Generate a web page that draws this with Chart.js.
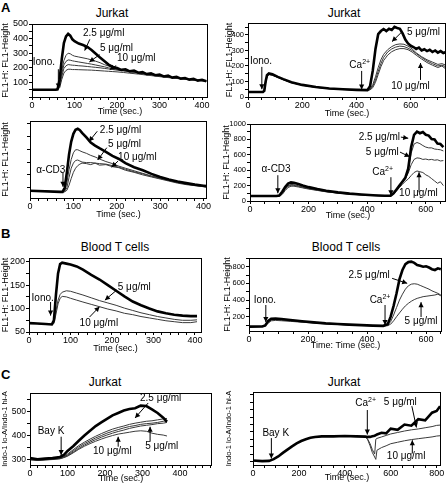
<!DOCTYPE html>
<html>
<head>
<meta charset="utf-8">
<title>Calcium flux panels</title>
<script src="https://cdn.jsdelivr.net/npm/chart.js@4.4.1/dist/chart.umd.min.js"></script>
<style>
  html, body { margin: 0; padding: 0; background: #fff; overflow: hidden; }
  #figure { position: relative; width: 448px; height: 489px; font-family: "Liberation Sans", Arial, sans-serif; color: #000; }
  .letter { position: absolute; font-weight: bold; font-size: 13px; line-height: 13px; }
  .title { position: absolute; font-size: 12px; transform: translate(-50%, -50%); white-space: nowrap; }
  .plot { position: absolute; }
</style>
</head>
<body>
<div id="figure">
  <div class="letter" style="left:1px;top:1px;">A</div>
  <div class="letter" style="left:1px;top:227px;">B</div>
  <div class="letter" style="left:1px;top:368px;">C</div>
  <div class="title" style="left:112px;top:13px;">Jurkat</div>
  <div class="title" style="left:344px;top:13px;">Jurkat</div>
  <div class="title" style="left:115px;top:247px;">Blood T cells</div>
  <div class="title" style="left:346px;top:247px;">Blood T cells</div>
  <div class="title" style="left:105px;top:382px;">Jurkat</div>
  <div class="title" style="left:344px;top:382px;">Jurkat</div>
</div>
<script>
// ---- A: Jurkat, ionomycin (left) ----
const tA1 = [0, 55, 60, 65, 70, 75, 80, 85, 90, 95, 100, 110, 120, 130, 140, 150, 160, 170, 180, 190, 200, 215, 230, 250, 270, 290, 310, 330, 350, 370, 390, 410];
const tA1Top = [0, 55, 60, 65, 70, 75, 80, 85, 90, 95, 100, 110, 120, 130, 140, 150, 160, 170, 180, 190, 200, 210, 220, 230, 240, 250, 260, 270, 280, 290, 300, 310, 320, 330, 340, 350, 360, 370, 380, 390, 400, 410];
const a1Dose25 = [50, 50, 52, 120, 260, 370, 415, 432, 420, 395, 382, 366, 356, 344, 322, 296, 270, 246, 222, 206, 198, 186, 190, 176, 181, 166, 170, 157, 162, 149, 153, 141, 146, 133, 138, 126, 130, 119, 124, 112, 118, 108];
const a1Dose5 = [50, 50, 51, 90, 180, 250, 285, 300, 296, 286, 280, 274, 268, 262, 254, 245, 235, 222, 212, 201, 193, 184, 177, 167, 159, 150, 142, 135, 128, 122, 116, 111];
const a1Dose10 = [50, 50, 50, 80, 160, 220, 244, 254, 252, 248, 245, 240, 235, 230, 225, 219, 213, 207, 200, 194, 188, 182, 175, 166, 157, 149, 141, 134, 127, 121, 115, 110];
const a1TraceD = [50, 50, 50, 70, 140, 195, 214, 222, 220, 218, 217, 214, 212, 209, 206, 203, 200, 196, 192, 188, 184, 178, 172, 164, 155, 147, 140, 133, 126, 120, 114, 108];
const a1TraceE = [50, 50, 50, 62, 120, 164, 182, 190, 190, 188, 188, 187, 186, 185, 184, 182, 180, 178, 176, 174, 172, 168, 163, 157, 150, 143, 136, 130, 124, 118, 113, 107];
const xTicksA1 = [0, 100, 200, 300, 400];
const yTicksA1 = [100, 200, 300, 400, 500];

// ---- A: Jurkat, ionomycin then Ca2+ (right) ----
const tA2 = [0, 55, 60, 65, 70, 77, 90, 110, 130, 160, 200, 250, 300, 350, 400, 440, 450, 460, 470, 480, 490, 500, 515, 530, 545, 560, 575, 590, 605, 620, 640, 660, 680, 700, 715, 730];
const tA2Top = [0, 55, 60, 65, 70, 77, 90, 110, 130, 160, 200, 250, 300, 350, 400, 440, 450, 460, 470, 480, 490, 500, 510, 520, 530, 540, 550, 560, 570, 580, 590, 600, 610, 620, 630, 640, 650, 660, 670, 680, 690, 700, 710, 720, 730];
const a2Top = [32, 32, 40, 100, 140, 152, 146, 130, 115, 95, 78, 64, 55, 50, 46, 44, 70, 170, 310, 405, 425, 438, 425, 440, 432, 452, 445, 440, 410, 370, 345, 330, 322, 310, 318, 300, 308, 296, 304, 290, 300, 286, 296, 284, 290];
const a2Dose5 = [32, 32, 38, 95, 135, 148, 143, 128, 113, 94, 77, 63, 54, 49, 46, 44, 50, 80, 130, 190, 240, 275, 305, 325, 338, 342, 340, 328, 310, 285, 260, 240, 225, 210, 215, 205];
const a2TraceC = [32, 32, 37, 92, 132, 146, 141, 127, 112, 93, 76, 63, 54, 49, 45, 44, 48, 70, 110, 165, 215, 255, 290, 310, 322, 328, 325, 315, 300, 280, 255, 232, 215, 200, 205, 195];
const a2Dose10 = [32, 32, 36, 90, 130, 144, 140, 126, 111, 92, 76, 62, 53, 48, 45, 43, 46, 60, 95, 145, 195, 235, 270, 292, 305, 312, 312, 305, 290, 270, 245, 222, 205, 190, 200, 180];
const xTicksA2 = [0, 200, 400, 600];
const yTicksA2 = [0, 100, 200, 300, 400];

// ---- A: Jurkat, anti-CD3 (left) ----
const tA3 = [0, 70, 75, 80, 85, 90, 95, 100, 105, 110, 115, 120, 130, 140, 150, 160, 175, 190, 205, 220, 240, 260, 280, 300, 320, 340, 360, 380, 400, 420, 430];
const a3Dose25 = [44, 42, 42, 50, 80, 115, 140, 155, 163, 165, 162, 157, 148, 138, 132, 127, 120, 112, 106, 98, 90, 84, 77, 71, 66, 62, 59, 56, 54, 52, 51];
const a3Dose5 = [44, 42, 42, 45, 60, 85, 105, 118, 124, 124, 122, 120, 117, 113, 110, 106, 101, 97, 92, 88, 83, 78, 73, 69, 65, 61, 58, 55, 53, 51, 50];
const a3Dose10 = [44, 42, 42, 43, 50, 70, 88, 98, 103, 104, 102, 100, 99, 99, 98, 97, 96, 93, 90, 86, 81, 77, 72, 68, 64, 60, 57, 55, 52, 50, 49];
const a3TraceD = [44, 42, 42, 42, 45, 55, 68, 80, 88, 93, 96, 98, 97, 95, 98, 94, 95, 91, 89, 84, 80, 75, 71, 67, 63, 59, 56, 54, 52, 50, 49];
const xTicksA3 = [0, 100, 200, 300, 400];
const yTicksA3 = [30, 80, 130, 180];

// ---- A: Jurkat, anti-CD3 then Ca2+ (right) ----
const tA4 = [0, 90, 100, 110, 120, 130, 140, 150, 165, 180, 200, 230, 260, 300, 340, 380, 420, 460, 480, 490, 500, 510, 520, 530, 540, 550, 560, 570, 580, 590, 600, 610, 620, 630, 640, 650, 660];
const a4Dose25 = [64, 64, 70, 120, 180, 225, 242, 238, 220, 200, 180, 155, 133, 112, 96, 84, 75, 68, 70, 100, 150, 200, 250, 300, 420, 700, 860, 900, 880, 895, 860, 850, 805, 800, 745, 740, 700];
const a4Dose5 = [64, 64, 68, 105, 160, 200, 215, 212, 198, 182, 165, 143, 124, 106, 92, 81, 73, 67, 68, 98, 145, 195, 245, 295, 390, 620, 740, 760, 745, 720, 700, 690, 690, 675, 670, 665, 650];
const a4TraceC = [64, 64, 66, 95, 150, 190, 205, 203, 190, 176, 160, 140, 121, 104, 91, 80, 72, 66, 67, 95, 140, 190, 240, 290, 360, 470, 540, 560, 555, 540, 545, 535, 540, 530, 535, 520, 525];
const a4Dose10 = [64, 64, 65, 85, 135, 175, 192, 192, 182, 170, 155, 137, 119, 102, 89, 79, 71, 65, 66, 90, 130, 175, 215, 255, 285, 330, 370, 390, 380, 370, 340, 320, 290, 260, 230, 250, 200];
const xTicksA4 = [0, 200, 400, 600];
const yTicksA4 = [0, 200, 400, 600, 800, 1000];

// ---- B: blood T cells, ionomycin (left) ----
const tB1 = [0, 20, 40, 55, 60, 65, 70, 75, 80, 90, 100, 115, 130, 150, 170, 190, 210, 230, 250, 270, 290, 310, 330, 350, 370, 390, 405];
const b1Top = [69, 68, 67, 66, 75, 130, 175, 195, 198, 196, 194, 190, 183, 172, 162, 150, 138, 126, 115, 107, 100, 94, 90, 87, 85, 84, 84];
const b1Dose5 = [69, 68, 67, 67, 70, 95, 118, 130, 135, 138, 137, 133, 129, 123, 117, 112, 107, 101, 96, 91, 87, 83, 80, 77, 75, 75, 76];
const b1Dose10 = [69, 68, 67, 66, 68, 88, 110, 122, 126, 125, 122, 118, 114, 109, 104, 99, 95, 90, 87, 83, 80, 77, 74, 72, 70, 70, 72];
const xTicksB1 = [0, 100, 200, 300, 400];
const yTicksB1 = [50, 100, 150, 200];

// ---- B: blood T cells, ionomycin then Ca2+ (right) ----
const tB2 = [0, 45, 55, 65, 75, 90, 110, 140, 180, 220, 260, 300, 340, 380, 420, 455, 470, 480, 490, 500, 510, 520, 530, 540, 550, 560, 570, 580, 590, 600, 610, 620, 630, 640, 650];
const b2Top = [80, 82, 95, 150, 175, 178, 172, 160, 145, 132, 120, 112, 104, 98, 93, 90, 110, 200, 330, 480, 650, 760, 830, 855, 860, 845, 820, 810, 800, 805, 790, 770, 760, 780, 770];
const b2Dose25 = [80, 82, 90, 130, 160, 162, 158, 150, 138, 127, 117, 108, 101, 96, 92, 89, 100, 140, 220, 310, 400, 470, 530, 570, 590, 595, 590, 575, 560, 545, 530, 510, 495, 480, 460];
const b2Dose5 = [80, 82, 88, 120, 150, 155, 151, 144, 133, 123, 114, 106, 99, 95, 91, 88, 92, 110, 150, 200, 245, 290, 330, 360, 385, 405, 420, 430, 440, 445, 450, 455, 460, 470, 450];
const xTicksB2 = [0, 200, 400, 600];
const yTicksB2 = [200, 400, 600, 800];

// ---- C: Jurkat, Bay K (left) ----
const tC1 = [0, 20, 40, 60, 80, 90, 100, 115, 130, 145, 160, 175, 190, 205, 220, 235, 250, 265, 280, 295, 310, 325, 340, 355, 365];
const c1Dose25 = [305, 300, 303, 305, 310, 318, 335, 355, 378, 400, 420, 440, 455, 470, 485, 495, 505, 512, 515, 526, 524, 510, 495, 475, 458];
const c1TraceB = [300, 298, 300, 302, 305, 312, 322, 340, 358, 372, 385, 397, 408, 418, 427, 434, 440, 447, 452, 456, 460, 462, 466, 470, 472];
const c1TraceC = [300, 297, 299, 301, 304, 310, 318, 335, 352, 366, 378, 390, 400, 410, 418, 425, 432, 438, 442, 447, 450, 452, 455, 460, 462];
const c1Dose10 = [298, 296, 298, 300, 303, 308, 315, 330, 346, 360, 372, 383, 393, 402, 410, 417, 423, 430, 435, 440, 443, 446, 450, 452, 455];
const c1Dose5 = [298, 295, 297, 299, 302, 307, 313, 327, 342, 355, 366, 376, 385, 393, 400, 406, 410, 414, 418, 420, 418, 410, 405, 402, 398];
const xTicksC1 = [0, 100, 200, 300, 400];
const yTicksC1 = [300, 400, 500];

// ---- C: Jurkat, Bay K then Ca2+ (right) ----
const tC2 = [0, 40, 70, 90, 110, 130, 150, 170, 190, 210, 230, 250, 270, 300, 350, 400, 450, 490, 500, 510, 520, 530, 535, 540, 560, 580, 600, 630, 660, 690, 720, 750, 780, 800, 815];
const c2Top = [178, 176, 177, 183, 192, 204, 215, 226, 236, 244, 250, 255, 258, 260, 260, 261, 260, 259, 258, 258, 260, 262, 264, 266, 272, 270, 286, 282, 300, 296, 318, 314, 340, 346, 362];
const c2Dose5 = [178, 176, 177, 183, 192, 204, 215, 226, 236, 244, 250, 255, 258, 260, 260, 261, 260, 259, 250, 235, 215, 200, 250, 253, 258, 263, 268, 273, 278, 282, 285, 289, 293, 297, 298];
const c2Dose10 = [178, 176, 177, 183, 192, 204, 215, 226, 236, 244, 250, 255, 258, 260, 260, 261, 260, 259, 248, 228, 205, 190, 182, 213, 222, 228, 235, 240, 245, 249, 252, 255, 258, 261, 262];
const xTicksC2 = [0, 200, 400, 600, 800];
const yTicksC2 = [210, 260, 310, 360];

const FL1 = 'FL1-H: FL1-Height';
const INDO = 'Indo-1 lo-A/Indo-1 hi-A';

Chart.defaults.font.family = '"Liberation Sans", Arial, sans-serif';
Chart.defaults.color = '#000';

function drawArrow(ctx, x1, y1, x2, y2) {
    ctx.beginPath();
    ctx.moveTo(x1, y1);
    ctx.lineTo(x2, y2);
    ctx.stroke();
    const ang = Math.atan2(y2 - y1, x2 - x1);
    const len = 5, half = 2.6;
    ctx.beginPath();
    ctx.moveTo(x2, y2);
    ctx.lineTo(x2 - len * Math.cos(ang) + half * Math.sin(ang), y2 - len * Math.sin(ang) - half * Math.cos(ang));
    ctx.lineTo(x2 - len * Math.cos(ang) - half * Math.sin(ang), y2 - len * Math.sin(ang) + half * Math.cos(ang));
    ctx.closePath();
    ctx.fill();
}

// frame around the plot + labels/arrows placed in data units
const boxAndMarks = {
    id: 'boxAndMarks',
    afterDatasetsDraw(chart, args, opts) {
        const { ctx, chartArea: a, scales: { x, y } } = chart;
        ctx.save();
        ctx.strokeStyle = '#000';
        ctx.fillStyle = '#000';
        ctx.lineWidth = 1;
        ctx.strokeRect(Math.round(a.left) + 0.5, Math.round(a.top) + 0.5, Math.round(a.width) - 1, Math.round(a.height));
        ctx.textBaseline = 'middle';
        (opts.items || []).forEach(m => {
            if (m.arrow) {
                const [x1, y1, x2, y2] = m.arrow;
                drawArrow(ctx, x.getPixelForValue(x1), y.getPixelForValue(y1), x.getPixelForValue(x2), y.getPixelForValue(y2));
                return;
            }
            const px = x.getPixelForValue(m.at[0]);
            const py = y.getPixelForValue(m.at[1]);
            ctx.font = '10px "Liberation Sans", Arial, sans-serif';
            if (m.sup) {
                // "Ca" with raised "2+"
                const w1 = ctx.measureText(m.text).width;
                ctx.font = '7px "Liberation Sans", Arial, sans-serif';
                const w2 = ctx.measureText(m.sup).width;
                const x0 = px - (w1 + w2) / 2;
                ctx.textAlign = 'left';
                ctx.fillText(m.sup, x0 + w1, py - 3);
                ctx.font = '10px "Liberation Sans", Arial, sans-serif';
                ctx.fillText(m.text, x0, py);
            } else {
                ctx.textAlign = m.align || 'center';
                ctx.fillText(m.text, px, py);
            }
        });
        ctx.restore();
    }
};

function tickList(range, step) {
    const out = [];
    for (let v = Math.ceil(range[0] / step) * step; v <= range[1]; v += step) out.push(v);
    return out;
}

function makePlot(p) {
    const [l, t, r, b] = p.box;
    const padTop = 4;
    const div = document.createElement('div');
    div.className = 'plot';
    div.style.left = p.left + 'px';
    div.style.top = (t - padTop) + 'px';
    div.style.width = (r - p.left + p.padRight) + 'px';
    div.style.height = (b - t + padTop + p.xH) + 'px';
    const canvas = document.createElement('canvas');
    div.appendChild(canvas);
    document.getElementById('figure').appendChild(div);

    // first series is the heavy 2.5 µg/ml trace, drawn on top
    const datasets = p.series.map(([times, vals], i) => ({
        data: times.map((tv, k) => ({ x: tv, y: vals[k] })),
        borderColor: i === 0 ? '#000' : '#3a3a3a',
        borderWidth: i === 0 ? 2.6 : 1,
        pointRadius: 0,
        tension: 0,
        fill: false
    }));

    new Chart(canvas, {
        type: 'line',
        data: { datasets },
        options: {
            responsive: true,
            maintainAspectRatio: false,
            animation: false,
            events: [],
            layout: { padding: { left: 0, top: padTop, right: p.padRight, bottom: 0 } },
            plugins: {
                legend: { display: false },
                tooltip: { enabled: false },
                boxAndMarks: { items: p.marks }
            },
            scales: {
                x: {
                    type: 'linear',
                    min: p.xRange[0],
                    max: p.xRange[1],
                    afterBuildTicks: sc => { sc.ticks = tickList(p.xRange, p.xMinor).map(v => ({ value: v })); },
                    afterFit: sc => {
                        sc.height = p.xH;
                        sc.paddingLeft = 0; sc.paddingRight = 0;
                    },
                    ticks: {
                        autoSkip: false, maxRotation: 0, padding: 0,
                        font: { size: 9 },
                        callback: v => p.xTicks.includes(v) ? String(v) : ''
                    },
                    grid: { drawOnChartArea: false, drawTicks: true, tickLength: 3, color: '#000' },
                    border: { display: false },
                    title: { display: true, text: p.xTitle, font: { size: 9 }, padding: 0 }
                },
                y: {
                    type: 'linear',
                    min: p.yRange[0],
                    max: p.yRange[1],
                    afterBuildTicks: sc => { sc.ticks = tickList(p.yRange, p.yMinor).map(v => ({ value: v })); },
                    afterFit: sc => {
                        sc.width = l - p.left;
                        sc.paddingTop = 0; sc.paddingBottom = 0;
                    },
                    ticks: {
                        autoSkip: false, padding: 1,
                        font: { size: p.yTickSize },
                        callback: v => p.yTicks.includes(v) ? String(v) : ''
                    },
                    grid: { drawOnChartArea: false, drawTicks: true, tickLength: 3, color: '#000' },
                    border: { display: false },
                    title: { display: true, text: p.yTitle, font: { size: p.yTitleSize || 9 }, padding: { top: 0, bottom: 0 } }
                }
            }
        },
        plugins: [boxAndMarks]
    });
}

const panels = [
    {
        box: [32, 24, 208, 97], left: 0, padRight: 8, xH: 20, yTickSize: 9,
        xRange: [0, 414], yRange: [0, 500], xMinor: 20, yMinor: 50,
        xTicks: xTicksA1, yTicks: yTicksA1, xTitle: 'Time (sec.)', yTitle: FL1,
        series: [[tA1Top, a1Dose25], [tA1, a1Dose5], [tA1, a1Dose10], [tA1, a1TraceD], [tA1, a1TraceE]],
        marks: [
            { text: 'Iono.', at: [28, 237] },
            { arrow: [62, 190, 62, 58] },
            { text: '2.5 μg/ml', at: [120, 434], align: 'left' },
            { arrow: [136, 395, 124, 318] },
            { text: '5 μg/ml', at: [160, 332], align: 'left' },
            { arrow: [159, 290, 135, 240] },
            { text: '10 μg/ml', at: [200, 264], align: 'left' },
            { arrow: [198, 215, 183, 188] }
        ]
    },
    {
        box: [248, 23, 446, 97], left: 224, padRight: 2, xH: 22, yTickSize: 7.5,
        xRange: [0, 730], yRange: [0, 477], xMinor: 50, yMinor: 50,
        xTicks: xTicksA2, yTicks: yTicksA2, xTitle: 'Time (sec.)', yTitle: FL1,
        series: [[tA2Top, a2Top], [tA2, a2Dose5], [tA2, a2TraceC], [tA2, a2Dose10]],
        marks: [
            { text: 'Iono.', at: [48, 232] },
            { arrow: [51, 194, 51, 50] },
            { text: 'Ca', sup: '2+', at: [412, 206] },
            { arrow: [419, 168, 419, 48] },
            { text: '5 μg/ml', at: [647, 420] },
            { arrow: [568, 421, 531, 357] },
            { text: '10 μg/ml', at: [599, 71] },
            { arrow: [636, 110, 636, 219] }
        ]
    },
    {
        box: [30, 121, 207, 198], left: 0, padRight: 8, xH: 22, yTickSize: 9,
        xRange: [0, 408], yRange: [30, 180], xMinor: 20, yMinor: 25,
        xTicks: xTicksA3, yTicks: yTicksA3, xTitle: 'Time (sec.)', yTitle: FL1,
        series: [[tA3, a3Dose25], [tA3, a3Dose5], [tA3, a3Dose10], [tA3, a3TraceD]],
        marks: [
            { text: 'α-CD3', at: [48, 85] },
            { arrow: [76, 79, 76, 52] },
            { text: '2.5 μg/ml', at: [161, 162], align: 'left' },
            { arrow: [155, 160, 136, 140] },
            { text: '5 μg/ml', at: [180, 135], align: 'left' },
            { arrow: [177, 128, 156, 104] },
            { text: '10 μg/ml', at: [203, 110], align: 'left' },
            { arrow: [203, 102, 188, 90] }
        ]
    },
    {
        box: [250, 124, 446, 201], left: 221, padRight: 2, xH: 20, yTickSize: 7.5,
        xRange: [0, 669], yRange: [0, 1000], xMinor: 50, yMinor: 100,
        xTicks: xTicksA4, yTicks: yTicksA4, xTitle: 'Time (sec.)', yTitle: FL1,
        series: [[tA4, a4Dose25], [tA4, a4Dose5], [tA4, a4TraceC], [tA4, a4Dose10]],
        marks: [
            { text: 'α-CD3', at: [89, 413] },
            { arrow: [95, 335, 95, 100] },
            { text: 'Ca', sup: '2+', at: [453, 374] },
            { arrow: [481, 309, 481, 74] },
            { text: '2.5 μg/ml', at: [512, 830], align: 'right' },
            { arrow: [515, 830, 540, 815] },
            { text: '5 μg/ml', at: [508, 635], align: 'right' },
            { arrow: [512, 635, 545, 575] },
            { text: '10 μg/ml', at: [509, 100], align: 'left' },
            { arrow: [577, 113, 577, 374] }
        ]
    },
    {
        box: [29, 258, 202, 332], left: 0, padRight: 8, xH: 22, yTickSize: 9,
        xRange: [0, 417], yRange: [50, 208], xMinor: 20, yMinor: 25,
        xTicks: xTicksB1, yTicks: yTicksB1, xTitle: 'Time (sec.)', yTitle: FL1,
        series: [[tB1, b1Top], [tB1, b1Dose5], [tB1, b1Dose10]],
        marks: [
            { text: 'Iono.', at: [33, 121] },
            { arrow: [52, 114, 52, 85] },
            { text: '5 μg/ml', at: [214, 146], align: 'left' },
            { arrow: [212, 140, 183, 118] },
            { text: '10 μg/ml', at: [122, 69], align: 'left' },
            { arrow: [146, 82, 170, 104] }
        ]
    },
    {
        box: [249, 258, 442, 331], left: 222, padRight: 6, xH: 20, yTickSize: 7.5,
        xRange: [0, 654], yRange: [28, 904], xMinor: 50, yMinor: 100,
        xTicks: xTicksB2, yTicks: yTicksB2, xTitle: 'Time: Time (sec.)', yTitle: FL1,
        series: [[tB2, b2Top], [tB2, b2Dose25], [tB2, b2Dose5]],
        marks: [
            { text: 'Iono.', at: [54, 400] },
            { arrow: [57, 340, 57, 136] },
            { text: 'Ca', sup: '2+', at: [444, 400] },
            { arrow: [461, 340, 461, 100] },
            { text: '2.5 μg/ml', at: [407, 700] },
            { arrow: [485, 660, 536, 600] },
            { text: '5 μg/ml', at: [583, 147] },
            { arrow: [583, 196, 583, 374] }
        ]
    },
    {
        box: [30, 393, 212, 465], left: 0, padRight: 8, xH: 19, yTickSize: 8.5, yTitleSize: 7.5,
        xRange: [0, 485], yRange: [276, 579], xMinor: 20, yMinor: 50,
        xTicks: xTicksC1, yTicks: yTicksC1, xTitle: 'Time (sec.)', yTitle: INDO,
        series: [[tC1, c1Dose25], [tC1, c1TraceB], [tC1, c1TraceC], [tC1, c1Dose10], [tC1, c1Dose5]],
        marks: [
            { text: 'Bay K', at: [56, 416] },
            { arrow: [83, 395, 83, 318] },
            { text: '2.5 μg/ml', at: [293, 557], align: 'left' },
            { arrow: [315, 537, 280, 474] },
            { text: '5 μg/ml', at: [307, 353], align: 'left' },
            { arrow: [320, 374, 320, 437] },
            { text: '10 μg/ml', at: [168, 332], align: 'left' },
            { arrow: [235, 353, 235, 395] }
        ]
    },
    {
        box: [253, 392, 441, 465], left: 224, padRight: 7, xH: 18, yTickSize: 7.5, yTitleSize: 7.5,
        xRange: [0, 819], yRange: [163, 410], xMinor: 50, yMinor: 25,
        xTicks: xTicksC2, yTicks: yTicksC2, xTitle: 'Time (sec.)', yTitle: INDO,
        series: [[tC2, c2Top], [tC2, c2Dose5], [tC2, c2Dose10]],
        marks: [
            { text: 'Bay K', at: [99, 272] },
            { arrow: [80, 254, 80, 185] },
            { text: 'Ca', sup: '2+', at: [491, 371] },
            { arrow: [498, 349, 498, 266] },
            { text: '5 μg/ml', at: [570, 377], align: 'left' },
            { arrow: [692, 362, 712, 290] },
            { text: '10 μg/ml', at: [583, 193], align: 'left' },
            { arrow: [694, 202, 694, 247] }
        ]
    }
];

panels.forEach(makePlot);
</script>
</body>
</html>
